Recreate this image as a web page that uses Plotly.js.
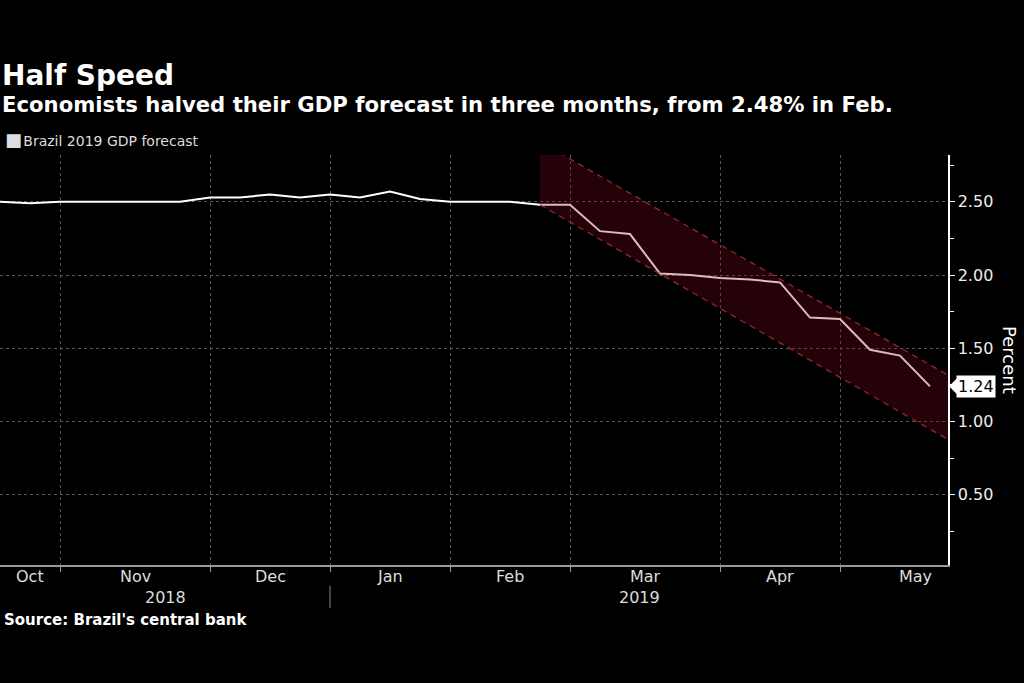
<!DOCTYPE html>
<html>
<head>
<meta charset="utf-8">
<script src="https://cdn.plot.ly/plotly-3.0.1.min.js"></script>
<style>html,body{margin:0;padding:0;background:#000;}#chart{width:1024px;height:683px;}</style>
</head>
<body>
<div id="chart"></div>
<script>
// Weekly survey dates (x categories, drawn on an evenly spaced index axis)
const dates = ['2018-10-19','2018-10-26','2018-11-02','2018-11-09','2018-11-16','2018-11-23','2018-11-30',
  '2018-12-07','2018-12-14','2018-12-21','2018-12-28','2019-01-04','2019-01-11','2019-01-18','2019-01-25',
  '2019-02-01','2019-02-08','2019-02-15','2019-02-22','2019-03-01','2019-03-08','2019-03-15','2019-03-22',
  '2019-03-29','2019-04-05','2019-04-12','2019-04-19','2019-04-26','2019-05-03','2019-05-10','2019-05-17','2019-05-24'];
// Brazil 2019 GDP forecast, percent
const gdpForecast = [2.50,2.49,2.50,2.50,2.50,2.50,2.50,2.53,2.53,2.55,2.53,2.55,2.53,2.57,2.52,2.50,
  2.50,2.50,2.48,2.48,2.30,2.28,2.01,2.00,1.98,1.97,1.95,1.71,1.70,1.49,1.45,1.24];
// Trend band (index positions and band edges, percent)
const bandIdx = [18, 32];
const bandUpper = [2.91, 1.27];
const bandLower = [2.48, 0.83];
const monthNames = ['Jan','Feb','Mar','Apr','May','Jun','Jul','Aug','Sep','Oct','Nov','Dec'];
const yTicks = [0.5, 1.0, 1.5, 2.0, 2.5];

const xMax = 31.6;
const idx = dates.map((d, i) => i);
const parse = s => { const p = s.split('-').map(Number); return {y: p[0], m: p[1] - 1, d: p[2]}; };
const pd = dates.map(parse);

// month boundaries
const starts = [0];
for (let i = 1; i < pd.length; i++) if (pd[i].m !== pd[i-1].m) starts.push(i);
const boundaries = starts.slice(1);
const monthAnn = [];
starts.forEach((s, k) => {
  let end;
  if (k < starts.length - 1) end = starts[k+1];
  else {
    const dt = new Date(Date.UTC(pd[s].y, pd[s].m, pd[s].d));
    let n = 0; const m = pd[s].m;
    while (dt.getUTCMonth() === m) { n++; dt.setUTCDate(dt.getUTCDate() + 7); }
    end = s + n;
  }
  monthAnn.push({x: (s + end) / 2, text: monthNames[pd[s].m]});
});
// year segments
const yStarts = [0];
for (let i = 1; i < pd.length; i++) if (pd[i].y !== pd[i-1].y) yStarts.push(i);
const yearAnn = yStarts.map((s, k) => ({x: (s + (k < yStarts.length - 1 ? yStarts[k+1] : xMax)) / 2, text: String(pd[s].y)}));

const F = 'DejaVu Sans';
const traces = [
  {x: idx, y: gdpForecast, type: 'scatter', mode: 'lines', line: {color: '#ffffff', width: 2}, showlegend: false, hoverinfo: 'y'},
  {x: [bandIdx[0], bandIdx[0], bandIdx[1], bandIdx[1]], y: [bandLower[0], bandUpper[0], bandUpper[1], bandLower[1]],
   type: 'scatter', mode: 'lines', fill: 'toself', fillcolor: 'rgba(130,8,30,0.28)', line: {width: 0}, showlegend: false, hoverinfo: 'skip'},
  {x: bandIdx, y: bandUpper, type: 'scatter', mode: 'lines', line: {color: 'rgba(170,45,65,0.85)', width: 1.3, dash: '6px,5px'}, showlegend: false, hoverinfo: 'skip'},
  {x: bandIdx, y: bandLower, type: 'scatter', mode: 'lines', line: {color: 'rgba(170,45,65,0.85)', width: 1.3, dash: '6px,5px'}, showlegend: false, hoverinfo: 'skip'}
];

const ann = [];
ann.push({xref: 'paper', yref: 'paper', x: 0.0, y: 1.195, xanchor: 'left', yanchor: 'middle', xshift: 0, showarrow: false,
  text: '<b>Half Speed</b>', font: {family: F, size: 28, color: '#ffffff'}});
ann.push({xref: 'paper', yref: 'paper', x: 0.0, y: 1.122, xanchor: 'left', yanchor: 'middle', xshift: 0, showarrow: false,
  text: '<b>Economists halved their GDP forecast in three months, from 2.48% in Feb.</b>', font: {family: F, size: 21.2, color: '#ffffff'}});
ann.push({xref: 'paper', yref: 'paper', x: 0.0, y: 1.037, xanchor: 'left', yanchor: 'middle', xshift: 3, showarrow: false,
  text: '<span style="font-size:18px">■</span><span style="font-size:4px"> </span>Brazil 2019 GDP forecast', font: {family: F, size: 14, color: '#dddddd'}});
ann.push({xref: 'paper', yref: 'paper', x: 0.0, y: -0.134, xanchor: 'left', yanchor: 'middle', xshift: 2, showarrow: false,
  text: "<b>Source: Brazil's central bank</b>", font: {family: F, size: 15, color: '#ffffff'}});
monthAnn.forEach(a => ann.push({xref: 'x', yref: 'paper', x: a.x, y: -0.029, yanchor: 'middle', showarrow: false,
  text: a.text, font: {family: F, size: 16, color: '#dddddd'}}));
yearAnn.forEach(a => ann.push({xref: 'x', yref: 'paper', x: a.x, y: -0.080, yanchor: 'middle', showarrow: false,
  text: a.text, font: {family: F, size: 16, color: '#dddddd'}}));
ann.push({xref: 'paper', yref: 'paper', x: 1, y: 0.5, xanchor: 'center', yanchor: 'middle', xshift: 62, showarrow: false, textangle: 90,
  text: 'Percent', font: {family: F, size: 18, color: '#ffffff'}});
const last = gdpForecast[gdpForecast.length - 1];
ann.push({xref: 'paper', yref: 'y', x: 1, y: last, xanchor: 'left', yanchor: 'middle', xshift: 8, showarrow: false,
  text: last.toFixed(2), bgcolor: '#ffffff', borderpad: 1, font: {family: F, size: 16, color: '#000000'}});

const shapes = [];
shapes.push({type: 'line', xref: 'x', yref: 'paper', x0: yStarts[1], x1: yStarts[1], y0: -0.05, y1: -0.105,
  line: {color: '#888888', width: 1}});
shapes.push({type: 'path', xref: 'paper', yref: 'y', xsizemode: 'pixel', ysizemode: 'pixel', xanchor: 1, yanchor: last,
  path: 'M 1 0 L 9 8 L 9 -8 Z', fillcolor: '#ffffff', line: {width: 0}});

const layout = {
  width: 1024, height: 683,
  paper_bgcolor: '#000000', plot_bgcolor: '#000000',
  margin: {l: 0, r: 76, t: 155, b: 118},
  font: {family: F, color: '#dddddd', size: 16},
  showlegend: false,
  xaxis: {range: [0, xMax], tickvals: boundaries, showticklabels: false, ticks: 'outside', ticklen: 5, tickcolor: '#999999',
    showgrid: true, gridcolor: '#555555', griddash: 'dot', gridwidth: 1, zeroline: false,
    showline: true, linecolor: '#999999', linewidth: 1.5, fixedrange: true},
  yaxis: {side: 'right', range: [0.02, 2.82], tickvals: yTicks, ticktext: yTicks.map(v => v.toFixed(2)),
    ticks: 'outside', ticklen: 5, tickcolor: '#ffffff', tickfont: {family: F, size: 16, color: '#eeeeee'},
    minor: {dtick: 0.25, tick0: 0, ticks: 'outside', ticklen: 4, tickcolor: '#ffffff', showgrid: false},
    showgrid: true, gridcolor: '#555555', griddash: 'dot', gridwidth: 1, zeroline: false,
    showline: true, linecolor: '#ffffff', linewidth: 1.5, fixedrange: true},
  annotations: ann,
  shapes: shapes
};
Plotly.newPlot('chart', traces, layout, {displayModeBar: false, staticPlot: true});
</script>
</body>
</html>
